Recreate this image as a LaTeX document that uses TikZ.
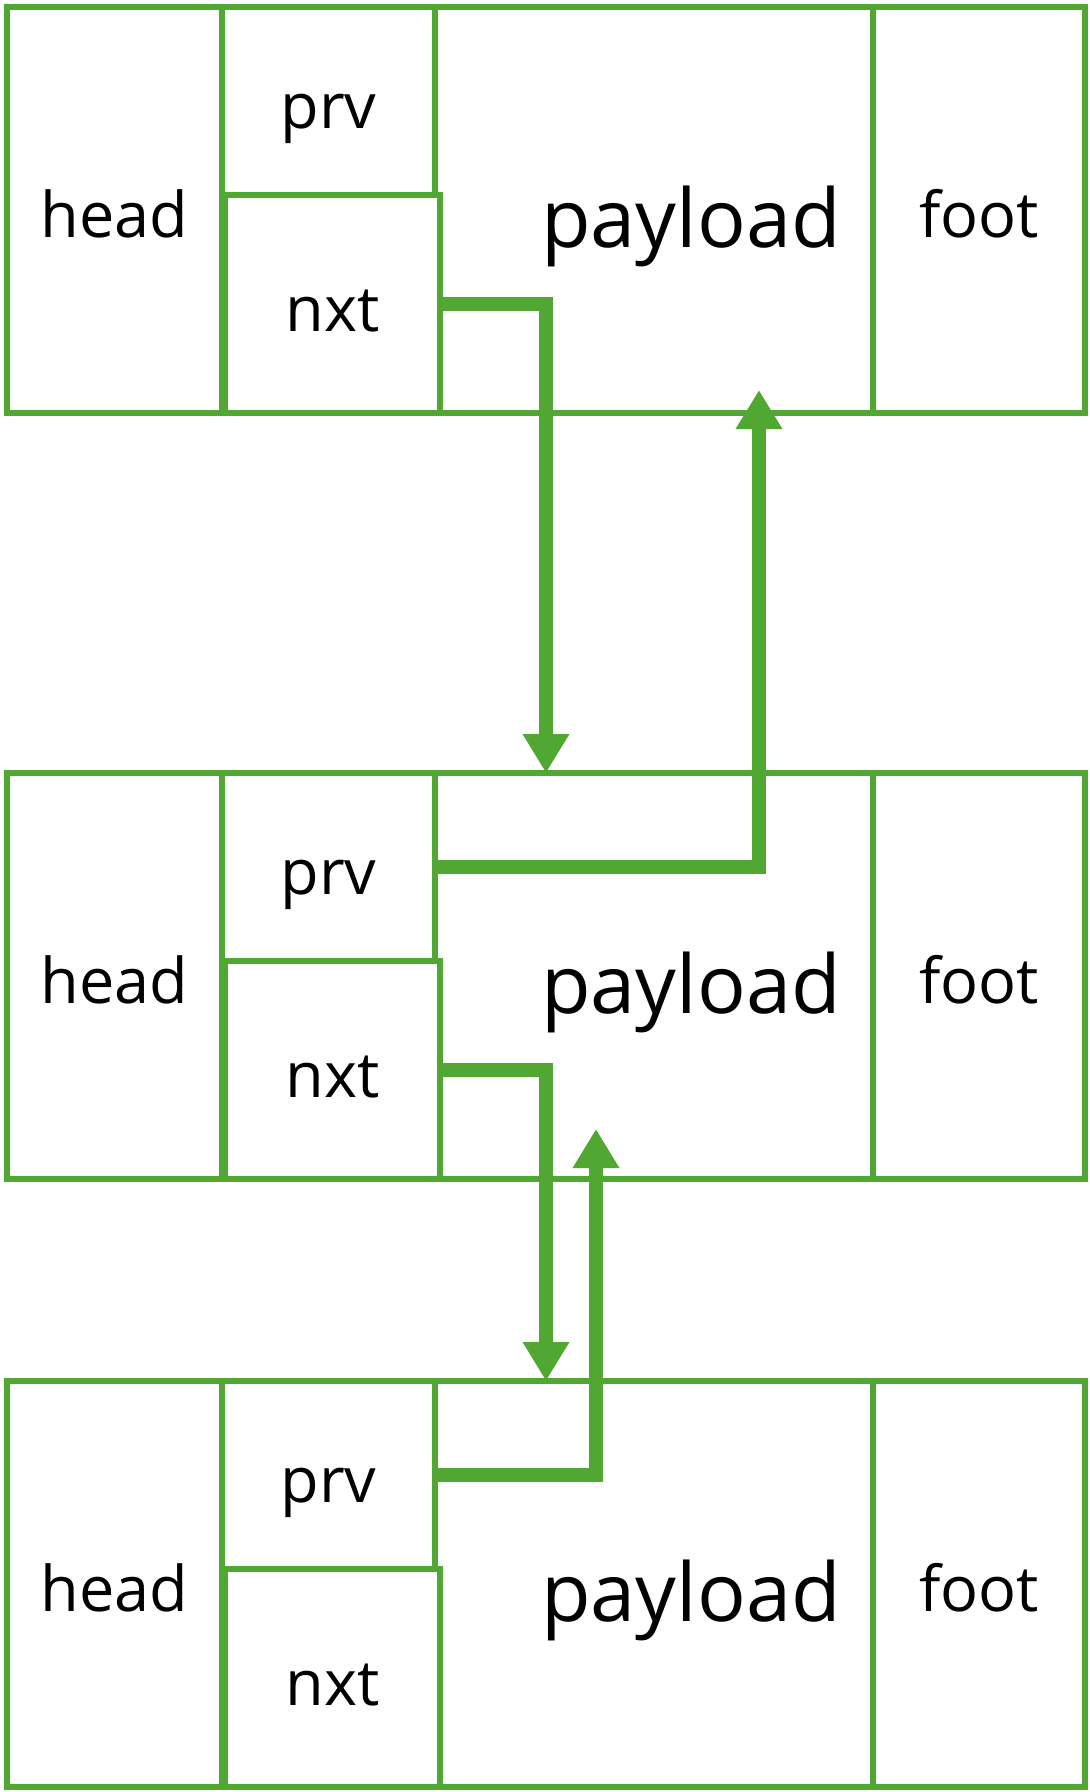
\documentclass[tikz,border=0pt]{standalone}
\usepackage{fontspec}
\setmainfont{Open Sans}
\usetikzlibrary{arrows.meta, positioning}
\definecolor{cellgreen}{RGB}{80, 167, 50}

\begin{document}
\begin{tikzpicture}[x=1pt, y=-1pt]
    % Styles
    \tikzstyle{frame} = [draw=cellgreen, line width=6.5pt, inner sep=0pt, outer sep=0pt, anchor=north west, font=\fontsize{63}{63}\selectfont, text height=55pt, text depth=0pt]
    \tikzstyle{bigword} = [inner sep=0pt, font=\fontsize{81}{81}\selectfont, text height=75pt, text depth=0pt]
    \tikzstyle{link} = [cellgreen, line width=14pt, -{Triangle[width=44pt, length=39pt]}]

    \useasboundingbox (0,0) rectangle (1090,1792);

    % Blocks
    \foreach \i/\t in {1/7, 2/773, 3/1381} {
        \node [frame, minimum width=1078pt, minimum height=406pt] (blk\i) at (7,\t) {};
        \node [frame, minimum width=215pt, minimum height=406pt] (head\i) at (7,\t) {head};
        \node [frame, minimum width=213pt, minimum height=188pt] (prv\i) at (222,\t) {prv};
        \node [frame, minimum width=215pt, minimum height=218pt] (nxt\i) at (225,\t+188) {nxt};
        \node [frame, minimum width=212pt, minimum height=406pt] (foot\i) at (873,\t) {foot};
        \node [bigword] (pay\i) at (691,\t+203) {payload};
    }

    % Arrows
    \draw [link] (nxt1.east) -| ([xshift=539pt]blk2.north west);
    \draw [link] (prv2.east) -| ([xshift=752pt, yshift=23pt]blk1.south west);
    \draw [link] (nxt2.east) -| ([xshift=539pt]blk3.north west);
    \draw [link] (prv3.east) -| ([xshift=589pt, yshift=50pt]blk2.south west);
\end{tikzpicture}
\end{document}
